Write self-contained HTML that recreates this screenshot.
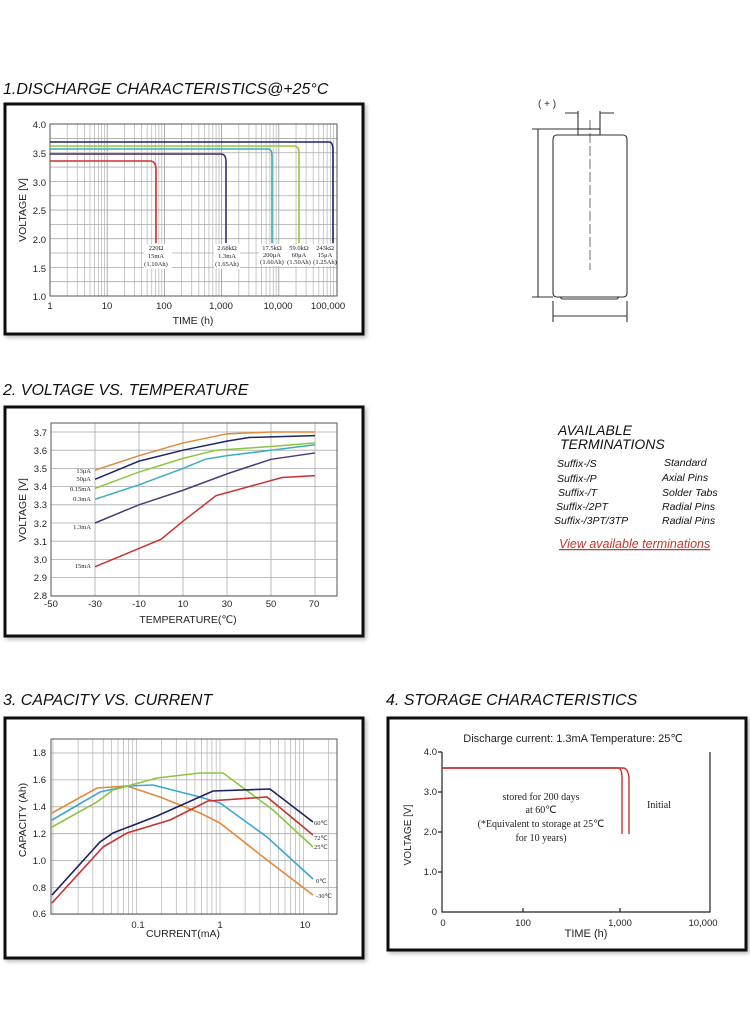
<!DOCTYPE html>
<html><head><meta charset="utf-8">
<style>
html,body{margin:0;padding:0;background:#fff;}
svg{display:block;font-family:"Liberation Sans","DejaVu Sans",sans-serif;}
.t{font-style:italic;font-size:16px;fill:#111;}
.tk{font-size:9.5px;fill:#222;}
.sm{font-size:6.5px;fill:#222;font-family:"Liberation Serif",serif;}
.ax{font-size:10.5px;fill:#222;}
</style></head><body>
<svg id="s" width="750" height="1020" viewBox="0 0 750 1020" xmlns="http://www.w3.org/2000/svg">
<defs><filter id="sh" x="-5%" y="-5%" width="110%" height="110%"><feDropShadow dx="2" dy="2" stdDeviation="2" flood-color="#888" flood-opacity="0.6"/></filter></defs>

<text class="t" x="3" y="94">1.DISCHARGE CHARACTERISTICS@+25°C</text>
<text class="t" x="3" y="395">2. VOLTAGE VS. TEMPERATURE</text>
<text class="t" x="3" y="705">3. CAPACITY VS. CURRENT</text>
<text class="t" x="386" y="705">4. STORAGE CHARACTERISTICS</text>

<rect x="5" y="104" width="358" height="230" fill="#fff" stroke="#111" stroke-width="3" filter="url(#sh)"/>
<rect x="5" y="407" width="358" height="229" fill="#fff" stroke="#111" stroke-width="3" filter="url(#sh)"/>
<rect x="5" y="718" width="358" height="240" fill="#fff" stroke="#111" stroke-width="3" filter="url(#sh)"/>
<rect x="388" y="718" width="358" height="232" fill="#fff" stroke="#111" stroke-width="3" filter="url(#sh)"/>

<g id="grid"></g>

<rect x="50" y="124" width="287" height="172" fill="none" stroke="#555" stroke-width="1"/>
<g class="tk" text-anchor="end">
<text x="46" y="128">4.0</text><text x="46" y="157">3.5</text><text x="46" y="186">3.0</text><text x="46" y="214">2.5</text><text x="46" y="243">2.0</text><text x="46" y="272">1.5</text><text x="46" y="300">1.0</text>
</g>
<g class="tk" text-anchor="middle">
<text x="50" y="309">1</text><text x="107" y="309">10</text><text x="164" y="309">100</text><text x="221" y="309">1,000</text><text x="278" y="309">10,000</text><text x="328" y="309">100,000</text>
</g>
<text class="ax" x="193" y="324" text-anchor="middle" font-size="9.5">TIME (h)</text>
<text class="ax" transform="translate(26,210) rotate(-90)" text-anchor="middle" font-size="9">VOLTAGE [V]</text>
<g fill="none" stroke-width="1.6">
<path d="M50 161 H150 Q156 161 156 170 V243" stroke="#c8322f"/>
<path d="M50 154 H221 Q226 154 226 162 V243" stroke="#3c2d66"/>
<path d="M50 149 H268 Q272 149 272 156 V243" stroke="#3aaec0"/>
<path d="M50 146 H294 Q299 146 299 153 V243" stroke="#9cc63c"/>
<path d="M50 142 H329 Q333 142 333 150 V243" stroke="#1e2466"/>
</g>
<g class="sm" text-anchor="middle">
<rect x="144" y="244" width="28" height="25" fill="#fff"/>
<text x="156" y="250">220Ω</text><text x="156" y="258">15mA</text><text x="156" y="266">(1.10Ah)</text>
<rect x="214" y="244" width="26" height="25" fill="#fff"/>
<text x="227" y="250">2.68kΩ</text><text x="227" y="258">1.3mA</text><text x="227" y="266">(1.65Ah)</text>
<rect x="259" y="244" width="77" height="22" fill="#fff"/>
<text x="272" y="250">17.5kΩ</text><text x="272" y="257">200μA</text><text x="272" y="264">(1.60Ah)</text>
<text x="299" y="250">59.0kΩ</text><text x="299" y="257">60μA</text><text x="299" y="264">(1.50Ah)</text>
<text x="325" y="250">243kΩ</text><text x="325" y="257">15μA</text><text x="325" y="264">(1.25Ah)</text>
</g>

<rect x="51" y="423" width="286" height="173" fill="none" stroke="#555"/>
<g class="tk" text-anchor="end" font-size="8.5">
<text x="47" y="436">3.7</text><text x="47" y="454">3.6</text><text x="47" y="472">3.5</text><text x="47" y="490">3.4</text><text x="47" y="508">3.3</text><text x="47" y="527">3.2</text><text x="47" y="545">3.1</text><text x="47" y="563">3.0</text><text x="47" y="581">2.9</text><text x="47" y="599">2.8</text>
</g>
<g class="tk" text-anchor="middle" font-size="8.5">
<text x="51" y="607">-50</text><text x="95" y="607">-30</text><text x="139" y="607">-10</text><text x="183" y="607">10</text><text x="227" y="607">30</text><text x="271" y="607">50</text><text x="314" y="607">70</text>
</g>
<text class="ax" x="188" y="623" text-anchor="middle" font-size="10">TEMPERATURE(℃)</text>
<text class="ax" transform="translate(26,510) rotate(-90)" text-anchor="middle" font-size="10">VOLTAGE [V]</text>
<g fill="none" stroke-width="1.5" id="c2"></g>
<g class="sm" text-anchor="end" font-size="6.5">
<text x="91" y="473">13μA</text><text x="91" y="481">50μA</text><text x="91" y="491">0.15mA</text><text x="91" y="501">0.3mA</text><text x="91" y="529">1.3mA</text><text x="91" y="568">15mA</text>
</g>

<rect x="51" y="739" width="286" height="175" fill="none" stroke="#555"/>
<g class="tk" text-anchor="end" font-size="8.5">
<text x="46" y="756">1.8</text><text x="46" y="783">1.6</text><text x="46" y="810">1.4</text><text x="46" y="837">1.2</text><text x="46" y="864">1.0</text><text x="46" y="891">0.8</text><text x="46" y="917">0.6</text>
</g>
<g class="tk" text-anchor="middle" font-size="8.5">
<text x="138" y="928">0.1</text><text x="220" y="928">1</text><text x="305" y="928">10</text>
</g>
<text class="ax" x="183" y="937" text-anchor="middle" font-size="9.5">CURRENT(mA)</text>
<text class="ax" transform="translate(26,820) rotate(-90)" text-anchor="middle" font-size="10">CAPACITY (Ah)</text>
<g fill="none" stroke-width="1.6">
<polyline stroke="#e08a3a" points="52,813 97,788 127,786 160,797 200,813 220,823 267,860 313,895"/>
<polyline stroke="#3aa6d8" points="52,820 100,792 127,786 153,785 200,797 220,803 267,837 313,879"/>
<polyline stroke="#8cc640" points="52,827 97,802 113,790 157,778 200,773 223,773 273,810 313,847"/>
<polyline stroke="#c8322f" points="52,903 103,847 127,833 170,820 208,801 267,797 313,835"/>
<polyline stroke="#1e2060" points="52,895 100,842 113,833 157,816 213,791 270,789 313,822"/>
</g>
<g class="sm" font-size="7">
<text x="314" y="825">60℃</text><text x="314" y="840">72℃</text><text x="314" y="849">25℃</text><text x="316" y="883">0℃</text><text x="316" y="898">-30℃</text>
</g>

<text x="573" y="742" text-anchor="middle" font-size="11" fill="#222">Discharge current: 1.3mA  Temperature:  25℃</text>
<g stroke="#222" stroke-width="1.2" fill="none">
<path d="M442 752 V912 H710 V752"/>
<path d="M438 752 H442 M438 792 H442 M438 832 H442 M438 872 H442 M523 912 V908 M620 912 V908"/>
</g>
<g class="tk" text-anchor="end" font-size="8.5">
<text x="437" y="755">4.0</text><text x="437" y="795">3.0</text><text x="437" y="835">2.0</text><text x="437" y="875">1.0</text><text x="437" y="915">0</text>
</g>
<g class="tk" text-anchor="middle" font-size="8.5">
<text x="443" y="926">0</text><text x="523" y="926">100</text><text x="620" y="926">1,000</text><text x="703" y="926">10,000</text>
</g>
<text x="586" y="937" text-anchor="middle" font-size="11" fill="#222">TIME (h)</text>
<text transform="translate(411,835) rotate(-90)" text-anchor="middle" font-size="10" fill="#222">VOLTAGE [V]</text>
<g fill="none" stroke="#c8322f" stroke-width="1.4">
<path d="M442 768 H618 Q622 768 622 778 V834"/>
<path d="M442 768 H623 Q628 768 629 778 V834"/>
</g>
<g font-size="10" fill="#222" text-anchor="middle" font-family="Liberation Serif,serif">
<text x="541" y="800">stored for 200 days</text>
<text x="541" y="813">at 60℃</text>
<text x="541" y="827">(*Equivalent to storage at 25℃</text>
<text x="541" y="841">for 10 years)</text>
<text x="659" y="808">Initial</text>
</g>

<g stroke="#333" fill="none" stroke-width="1.1">
<path d="M557 135 H623 Q627 135 627 140 V293 Q627 297 623 297 H557 Q553 297 553 293 V140 Q553 135 557 135 Z"/>
<rect x="578" y="129" width="22" height="6"/>
<path d="M560 297 L562 299 H617 L619 297"/>
<path d="M590 120 V270" stroke-dasharray="10 3" stroke-width="0.7"/>
<path d="M578 111 V129 M600 111 V129 M565 113 H578 M600 113 H614"/>
<path d="M532 129 H578 M532 297 H553 M538 129 V297 M553 301 V322 M627 301 V322 M553 316 H627"/>
</g>
<text x="538" y="107" font-size="10" fill="#333">( + )</text>

<g font-style="italic" fill="#111">
<text x="558" y="435" font-size="14">AVAILABLE</text>
<text x="560" y="449" font-size="14">TERMINATIONS</text>
<g font-size="10.5">
<text x="557" y="467">Suffix-/S</text><text x="664" y="466">Standard</text>
<text x="557" y="482">Suffix-/P</text><text x="662" y="481">Axial Pins</text>
<text x="558" y="496">Suffix-/T</text><text x="662" y="496">Solder Tabs</text>
<text x="556" y="510">Suffix-/2PT</text><text x="662" y="510">Radial Pins</text>
<text x="554" y="524">Suffix-/3PT/3TP</text><text x="662" y="524">Radial Pins</text>
</g>
<text x="559" y="548" font-size="12.5" fill="#c0392b" text-decoration="underline">View available terminations</text>
</g>
</svg>
<script>
var NS="http://www.w3.org/2000/svg",g=document.getElementById('grid');
function L(x1,y1,x2,y2,c){var l=document.createElementNS(NS,'line');l.setAttribute('x1',x1);l.setAttribute('y1',y1);l.setAttribute('x2',x2);l.setAttribute('y2',y2);l.setAttribute('stroke',c||'#bbb');l.setAttribute('stroke-width','0.8');g.appendChild(l);}
for(var d=0;d<5;d++)for(var k=1;k<10;k++){var x=50+57.2*(d+Math.log10(k));L(x,124,x,296,k==1?'#999':'#bbb');}
for(var v=1;v<=4;v+=0.25){var y=296-(v-1)*57.3;L(50,y,337,y,'#aaa');}
for(var t=-50;t<=70;t+=20){var x=95+(t+30)*2.2;L(x,423,x,596,'#aaa');}
L(337,423,337,596,'#aaa');
for(var v=2.8;v<=3.75;v+=0.1){var y=432+(3.7-v)*182;L(51,y,337,y,'#aaa');}
for(var d=-3;d<2;d++)for(var k=1;k<10;k++){var x=220+83.5*(d+Math.log10(k));if(x>=51&&x<=337)L(x,739,x,914,'#bbb');}
for(var c=0.6;c<=1.85;c+=0.2){var y=753+(1.8-c)*134.5;L(51,y,337,y,'#aaa');}
var c2=document.getElementById('c2');
var S=[['#e08a3a',[[-30,3.49],[-10,3.57],[10,3.64],[30,3.69],[50,3.70],[70,3.70]]],
['#1e2466',[[-30,3.44],[-10,3.54],[10,3.60],[30,3.65],[40,3.67],[70,3.68]]],
['#8cc640',[[-30,3.39],[-10,3.48],[10,3.555],[25,3.60],[50,3.62],[70,3.64]]],
['#3aaec0',[[-30,3.33],[-10,3.41],[10,3.50],[20,3.55],[30,3.57],[50,3.60],[70,3.63]]],
['#4a3d78',[[-30,3.20],[-10,3.30],[10,3.38],[30,3.47],[50,3.55],[70,3.585]]],
['#c8322f',[[-30,2.96],[-10,3.06],[0,3.11],[10,3.21],[25,3.35],[40,3.40],[55,3.45],[70,3.46]]]];
S.forEach(function(s){var p=document.createElementNS(NS,'polyline');p.setAttribute('stroke',s[0]);p.setAttribute('points',s[1].map(function(q){return (95+(q[0]+30)*2.2)+','+(432+(3.7-q[1])*182)}).join(' '));c2.appendChild(p);});
</script>
</body></html>
